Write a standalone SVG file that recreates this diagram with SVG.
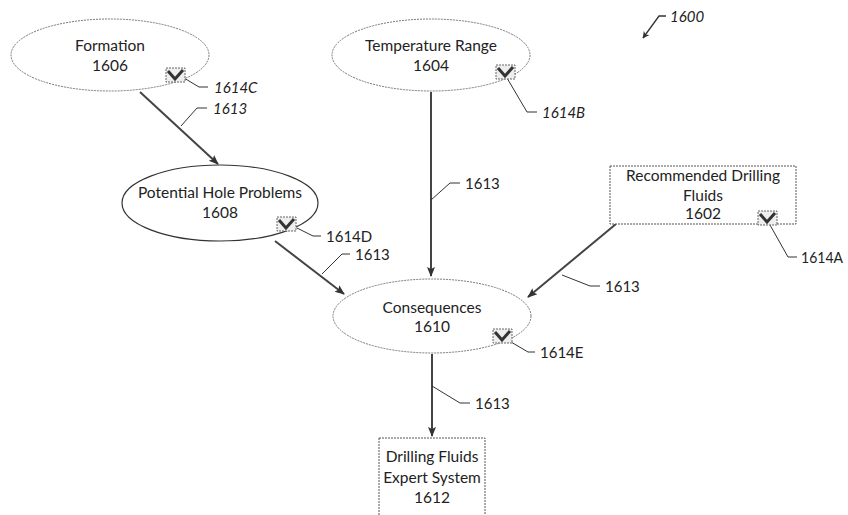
<svg xmlns="http://www.w3.org/2000/svg" width="848" height="515" viewBox="0 0 848 515">
<defs>
<style>
.bg{fill:#fff}
.ell{fill:#fff;stroke:#777;stroke-width:1;stroke-dasharray:2 1}
.ellD{fill:#fff;stroke:#333;stroke-width:1.2}
.box{fill:#fff;stroke:#555;stroke-width:1;stroke-dasharray:2 1}
.t{font-family:Lato,"Liberation Sans",sans-serif;font-size:15.5px;fill:#222;text-anchor:middle}
.lbl{font-family:Lato,"Liberation Sans",sans-serif;font-size:15px;fill:#222}
.it{font-style:italic}
.con{fill:none;stroke:#444;stroke-width:2}
.co{fill:none;stroke:#333;stroke-width:1}
.cbr{fill:#eee;stroke:#666;stroke-width:1;stroke-dasharray:2 1}
.ck{fill:none;stroke:#333;stroke-width:3}
</style>
<marker id="ah" viewBox="0 0 10 10" refX="9" refY="5" markerWidth="7" markerHeight="7" orient="auto" markerUnits="userSpaceOnUse">
<path d="M0,0 L10,5 L0,10 L3,5 Z" fill="#333"/>
</marker>
<marker id="ah2" viewBox="0 0 10 10" refX="9" refY="5" markerWidth="10" markerHeight="10" orient="auto" markerUnits="userSpaceOnUse">
<path d="M0,1 L10,5 L0,9 L2,5 Z" fill="#333"/>
</marker>
<g id="check">
<rect class="cbr" x="0" y="0" width="19" height="14"/>
<polyline class="ck" points="2,3 9,11 17,2"/>
</g>
</defs>
<rect class="bg" x="0" y="0" width="848" height="515"/>

<g id="connectors">
<line class="con" x1="140" y1="92" x2="218" y2="164" marker-end="url(#ah2)"/>
<line class="con" x1="431" y1="92" x2="431" y2="276" marker-end="url(#ah2)"/>
<line class="con" x1="275" y1="241" x2="344" y2="294" marker-end="url(#ah2)"/>
<line class="con" x1="616" y1="224" x2="528" y2="297" marker-end="url(#ah2)"/>
<line class="con" x1="432" y1="354" x2="432" y2="436" marker-end="url(#ah2)"/>
</g>

<g id="callouts">
<polyline class="co" points="184,78 199,87 208,87"/>
<text class="lbl it" x="214" y="93">1614C</text>
<polyline class="co" points="181,126 197,108 207,108"/>
<text class="lbl it" x="213" y="114">1613</text>
<polyline class="co" points="507,78 527,112 537,112"/>
<text class="lbl it" x="542" y="118">1614B</text>
<polyline class="co" points="431,200 450,183 460,183"/>
<text class="lbl" x="465" y="189">1613</text>
<polyline class="co" points="297,228 313,236 321,236"/>
<text class="lbl" x="326" y="242">1614D</text>
<polyline class="co" points="322,274 342,254 350,254"/>
<text class="lbl" x="355" y="260">1613</text>
<polyline class="co" points="770,225 788,257 797,257"/>
<text class="lbl" x="801" y="263" textLength="42" lengthAdjust="spacingAndGlyphs">1614A</text>
<polyline class="co" points="562,275 590,286 600,286"/>
<text class="lbl" x="605" y="292">1613</text>
<polyline class="co" points="511,342 528,352 535,352"/>
<text class="lbl" x="540" y="358">1614E</text>
<polyline class="co" points="432,386 460,403 470,403"/>
<text class="lbl" x="475" y="409">1613</text>
</g>

<g id="n1600">
<polyline class="co" points="666,16 659,16 643,38" marker-end="url(#ah)" style="stroke-width:1.3"/>
<text class="lbl it" x="670" y="22">1600</text>
</g>

<g id="n1606">
<ellipse class="ell" cx="110" cy="55" rx="99" ry="36"/>
<text class="t" x="110" y="51">Formation</text>
<text class="t" x="110" y="71">1606</text>
<use href="#check" x="166" y="68"/>
</g>

<g id="n1604">
<ellipse class="ell" cx="431" cy="55" rx="99" ry="36"/>
<text class="t" x="431" y="51">Temperature Range</text>
<text class="t" x="431" y="71">1604</text>
<use href="#check" x="496" y="65"/>
</g>

<g id="n1608">
<ellipse class="ellD" cx="220" cy="203" rx="98" ry="38"/>
<text class="t" x="220" y="198">Potential Hole Problems</text>
<text class="t" x="220" y="218">1608</text>
<use href="#check" x="277" y="217"/>
</g>

<g id="n1602">
<rect class="box" x="610" y="166" width="186" height="58"/>
<text class="t" x="703" y="181">Recommended Drilling</text>
<text class="t" x="703" y="201">Fluids</text>
<text class="t" x="703" y="219">1602</text>
<use href="#check" x="758" y="211"/>
</g>

<g id="n1610">
<ellipse class="ell" cx="432" cy="316" rx="99" ry="37"/>
<text class="t" x="432" y="313">Consequences</text>
<text class="t" x="432" y="332">1610</text>
<use href="#check" x="493" y="329"/>
</g>

<g id="n1612">
<rect class="box" x="379" y="438" width="106" height="90"/>
<text class="t" x="432" y="462">Drilling Fluids</text>
<text class="t" x="432" y="483">Expert System</text>
<text class="t" x="432" y="503">1612</text>
</g>
</svg>
